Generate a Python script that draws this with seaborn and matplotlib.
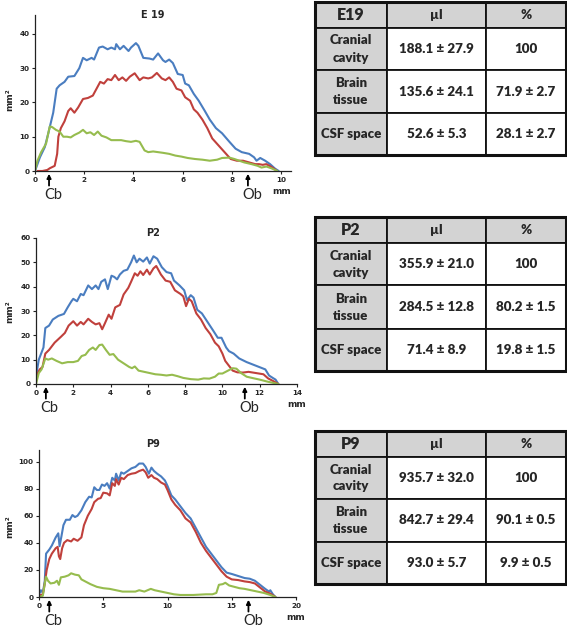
import matplotlib
matplotlib.use('Agg')
import matplotlib.pyplot as plt
import matplotlib.transforms as mtransforms
import seaborn as sns

# ---- E19 profiles (mm along axis vs. area mm^2)
e19_cranial_x = [0, 0.2, 0.4, 0.54, 0.74, 0.88, 1.0, 1.2, 1.35, 1.6, 1.8, 1.95, 2.1, 2.3, 2.4, 2.6, 2.75, 2.95, 3.1, 3.25,
                 3.3, 3.45, 3.6, 3.8, 3.9, 4.1, 4.2, 4.4, 4.65, 4.8, 5.0, 5.2, 5.3, 5.45, 5.6, 5.8, 6.0, 6.1, 6.25, 6.45,
                 6.65, 6.9, 7.1, 7.35, 7.6, 7.9, 8.15, 8.4, 8.7, 8.9, 9.0, 9.15, 9.35, 9.55, 9.75, 9.9]
e19_cranial_y = [0, 4, 7, 11, 17, 24, 25, 26, 27.5, 27.7, 30, 33, 32.3, 33, 32.5, 36, 36.3, 35.5, 36, 35.5,
                 37, 35.5, 36.5, 35, 36, 37.3, 36.5, 33, 32.8, 32.5, 34.3, 32.3, 31.8, 32.5, 31.5, 28.3, 28, 25.5, 25, 22.5,
                 20.5, 17.5, 15, 12.5, 11, 8.5, 6.5, 5.5, 5, 4, 3, 3.8, 3, 2, 0.7, 0]
e19_brain_x = [0.1, 0.3, 0.5, 0.6, 0.8, 0.9, 0.95, 1.05, 1.2, 1.35, 1.45, 1.6, 1.75, 1.95, 2.15, 2.35, 2.5, 2.65, 2.8, 2.95,
               3.1, 3.25, 3.4, 3.55, 3.7, 3.85, 4.05, 4.25, 4.4, 4.6, 4.75, 4.95, 5.15, 5.3, 5.45, 5.6, 5.75, 5.95, 6.1, 6.3,
               6.45, 6.6, 6.8, 7.0, 7.2, 7.45, 7.7, 7.95, 8.2, 8.45, 8.7, 8.95, 9.1, 9.25, 9.4, 9.6, 9.8]
e19_brain_y = [0, 0, 0.3, 0.8, 1.5, 5, 10, 12.5, 14.5, 17.5, 18.3, 17, 18.5, 21, 21.3, 22, 24, 26, 25.5, 26.8,
               26.5, 28, 26.5, 27.3, 26.3, 27.5, 28.5, 26.5, 27.3, 27, 27.3, 28.6, 27, 26.5, 27.3, 26, 24, 23.5, 21.5, 20.5,
               18, 17, 15, 12.5, 9.5, 7.5, 5.5, 3.5, 3, 3, 2.5, 2, 2, 1.8, 2, 1.2, 0.2]
e19_csf_x = [0, 0.1, 0.25, 0.45, 0.6, 0.7, 0.85, 1.0, 1.15, 1.3, 1.45, 1.6, 1.8, 1.95, 2.1, 2.25, 2.4, 2.55, 2.7, 2.9,
             3.1, 3.3, 3.5, 3.7, 3.9, 4.1, 4.25, 4.45, 4.6, 4.8, 5.0, 5.2, 5.45, 5.7, 5.95, 6.2, 6.5, 6.8, 7.1, 7.4,
             7.6, 7.9, 8.1, 8.3, 8.5, 8.8, 9.05, 9.2, 9.4, 9.6, 9.85]
e19_csf_y = [0, 3, 5.5, 8, 13, 12.8, 12, 11.5, 10, 10, 9.8, 10.5, 11.2, 12, 11, 11.3, 10.5, 11.5, 10.3, 9.8,
             9, 9, 9, 8.7, 8.5, 8.8, 8.5, 6, 5.5, 5.7, 5.5, 5.3, 5, 4.5, 4.2, 3.8, 3.5, 3.3, 3, 3.3,
             3.8, 3.9, 3.5, 3, 2.5, 2, 1.5, 1, 1.3, 0.8, 0]

# ---- P2 profiles
p2_cranial_x = [0, 0.15, 0.3, 0.4, 0.5, 0.7, 0.9, 1.2, 1.5, 1.7, 1.9, 2.0, 2.2, 2.4, 2.55, 2.8, 3.0, 3.2, 3.35, 3.5,
                3.7, 3.85, 4.05, 4.2, 4.35, 4.5, 4.7, 4.9, 5.1, 5.25, 5.4, 5.55, 5.75, 5.95, 6.1, 6.3, 6.5, 6.75, 7.0, 7.25,
                7.4, 7.7, 7.95, 8.1, 8.3, 8.45, 8.65, 8.9, 9.2, 9.5, 9.75, 9.95, 10.2, 10.35, 10.6, 10.9, 11.3, 11.8, 12.3, 12.5,
                12.7, 12.85, 13.0]
p2_cranial_y = [3, 10, 13, 15, 23, 24, 26.5, 28, 28.8, 31.5, 34, 35, 34, 37, 36.5, 40.5, 39, 40.5, 39, 42,
                43, 39, 44.5, 44, 43, 45, 46.5, 47, 50, 52.8, 50, 51.5, 50.3, 52, 49.5, 52.5, 51.5, 48, 46, 45.5,
                42.5, 40.5, 38.5, 34.5, 36.5, 35.5, 30.5, 29, 25.5, 22, 19, 19, 15, 13.5, 12.5, 10.5, 9, 7.5, 6, 3.5,
                2.5, 1.8, 0]
p2_brain_x = [0, 0.2, 0.35, 0.5, 0.7, 1.0, 1.35, 1.55, 1.75, 2.0, 2.2, 2.4, 2.55, 2.8, 3.0, 3.2, 3.4, 3.55, 3.7, 3.9,
              4.05, 4.25, 4.5, 4.7, 4.95, 5.1, 5.3, 5.45, 5.6, 5.75, 5.95, 6.1, 6.3, 6.45, 6.7, 6.95, 7.2, 7.45, 7.75, 7.9,
              8.05, 8.2, 8.35, 8.6, 8.85, 9.1, 9.35, 9.6, 9.8, 10.0, 10.15, 10.35, 10.55, 10.8, 11.1, 11.4, 11.8, 12.2, 12.45, 12.7,
              13.0]
p2_brain_y = [3, 6, 7, 12.5, 14, 17, 19.5, 21, 24, 25.8, 24, 25.5, 24.5, 26.8, 25.5, 24.5, 25, 22.5, 25, 28.5,
              26.8, 31.5, 32.5, 36.8, 39.5, 42, 45.5, 44.5, 46.3, 44.8, 47, 45, 47.5, 48.5, 45, 42.5, 42, 38.5, 37, 36,
              32, 35, 34, 29, 26.5, 23, 20.5, 17, 15.5, 12.5, 9.5, 7.5, 5.5, 4.8, 4.7, 5, 4.5, 4, 2.3, 1.3,
              0]
p2_csf_x = [0, 0.15, 0.3, 0.5, 0.65, 0.85, 1.1, 1.4, 1.7, 2.0, 2.25, 2.45, 2.65, 2.85, 3.05, 3.2, 3.4, 3.55, 3.75, 3.95,
            4.15, 4.4, 4.7, 5.0, 5.15, 5.3, 5.5, 5.8, 6.1, 6.4, 6.7, 7.0, 7.3, 7.6, 7.9, 8.3, 8.7, 9.0, 9.3, 9.6,
            9.8, 10.0, 10.3, 10.55, 10.75, 11.0, 11.3, 11.7, 12.0, 12.4, 12.7, 13.0]
p2_csf_y = [0, 4.5, 6, 10.5, 10, 10.5, 9.5, 8.5, 9, 9, 9.5, 11.5, 12, 14, 15, 14, 16, 16.2, 14, 12,
            12.3, 10, 8.5, 7, 6.5, 7.2, 5.5, 5, 4.5, 4, 3.8, 3.5, 3.8, 3.2, 2.5, 2, 1.8, 2.3, 2.2, 3,
            4.3, 4.3, 5.5, 6.5, 6.3, 4.5, 3, 2.3, 1.8, 1, 0.5, 0]

# ---- P9 profiles
p9_cranial_x = [0, 0.15, 0.3, 0.45, 0.55, 0.8, 1.0, 1.3, 1.5, 1.6, 1.75, 1.9, 2.1, 2.4, 2.6, 2.8, 3.0, 3.3, 3.6, 3.9,
                4.1, 4.3, 4.5, 4.7, 4.9, 5.1, 5.3, 5.5, 5.7, 5.9, 6.0, 6.2, 6.4, 6.6, 6.9, 7.2, 7.5, 7.8, 8.1, 8.3,
                8.55, 8.75, 8.95, 9.2, 9.5, 9.8, 10.0, 10.3, 10.6, 11.0, 11.4, 11.8, 12.2, 12.6, 13.0, 13.4, 13.8, 14.2, 14.6, 15.0,
                15.5, 16.0, 16.4, 16.8, 17.2, 17.6, 17.9, 18.0, 18.2, 18.4]
p9_cranial_y = [2, 5, 3, 12, 32, 35, 38, 44, 47, 37.5, 45, 53, 57, 57, 60.5, 59, 60, 64, 70, 74,
                73.5, 81, 79, 79, 83, 82, 84, 80, 88, 86, 91, 86, 92, 91, 93, 95, 96, 98.5, 98.5, 96,
                91, 95.5, 93, 91, 89, 86, 82, 75, 72, 67, 62, 58, 51, 44, 37, 32, 27, 22, 18, 17,
                15.5, 14, 13.5, 12, 9, 6, 4, 5, 2, 0]
p9_brain_x = [0, 0.3, 0.45, 0.6, 0.8, 1.0, 1.3, 1.45, 1.55, 1.65, 1.8, 1.95, 2.2, 2.5, 2.7, 3.0, 3.3, 3.5, 3.8, 4.1,
              4.3, 4.6, 4.8, 5.0, 5.3, 5.5, 5.7, 5.9, 6.0, 6.2, 6.4, 6.6, 6.9, 7.2, 7.5, 7.8, 8.1, 8.3, 8.5, 8.75,
              8.95, 9.2, 9.5, 9.8, 10.0, 10.3, 10.6, 11.0, 11.4, 11.8, 12.2, 12.6, 13.0, 13.4, 13.8, 14.2, 14.6, 15.0, 15.5, 16.0,
              16.4, 16.8, 17.2, 17.6, 18.0, 18.4]
p9_brain_y = [1, 2, 10, 20, 28, 32, 36, 37, 30, 28, 36, 40, 42, 41, 43, 41.5, 44, 53, 60, 65,
              70, 72.5, 73, 77, 76.5, 75, 84, 82, 87, 83, 88, 87, 90, 91, 91.5, 93, 94, 92, 88, 90,
              88, 87, 84.5, 83, 79, 72, 68, 64, 58, 55, 48, 40, 34, 29, 24, 19, 15, 13, 12.5, 11.5,
              11, 10, 7, 4, 2.5, 0]
p9_csf_x = [0, 0.3, 0.45, 0.55, 0.7, 0.9, 1.2, 1.4, 1.55, 1.7, 2.0, 2.3, 2.5, 2.8, 3.1, 3.3, 3.6, 4.0, 4.5, 5.0,
            5.5, 6.0, 6.5, 7.0, 7.5, 7.8, 8.2, 8.7, 9.0, 9.5, 10.0, 10.5, 11.0, 12.0, 13.0, 13.5, 13.8, 14.0, 14.3, 14.5,
            14.8, 15.2, 15.6, 16.0, 16.5, 17.0, 17.5, 18.0, 18.4]
p9_csf_y = [0, 1, 10, 15, 12, 10, 10.5, 12, 9, 14.5, 15, 16, 17.5, 16.5, 16, 13, 11.5, 9.5, 7.5, 6.5,
            6, 5, 4, 4, 4, 5, 4, 6, 5, 4, 3, 2, 1.5, 1.5, 2, 2, 3, 9, 9.5, 10.5,
            8.5, 7.5, 6.5, 6, 5, 4, 3, 1.5, 0]

# ---- volume tables
row_labels = ['Cranial\ncavity', 'Brain\ntissue', 'CSF space']
col_labels = ['\u00b5l', '%']
e19_table = [['188.1 \u00b1 27.9', '100'], ['135.6 \u00b1 24.1', '71.9 \u00b1 2.7'], ['52.6 \u00b1 5.3', '28.1 \u00b1 2.7']]
p2_table = [['355.9 \u00b1 21.0', '100'], ['284.5 \u00b1 12.8', '80.2 \u00b1 1.5'], ['71.4 \u00b1 8.9', '19.8 \u00b1 1.5']]
p9_table = [['935.7 \u00b1 32.0', '100'], ['842.7 \u00b1 29.4', '90.1 \u00b1 0.5'], ['93.0 \u00b1 5.7', '9.9 \u00b1 0.5']]

BLUE = '#4a7dc0'
RED = '#c0403c'
GREEN = '#96bc4e'
W, H = 567, 629

sns.set_style('ticks')
plt.rcParams['font.family'] = ['DejaVu Sans']

fig = plt.figure(figsize=(W / 100, H / 100), dpi=100)


def px_axes(left, top, right, bottom):
    return fig.add_axes([left / W, 1 - bottom / H, (right - left) / W, (bottom - top) / H])


def draw_profile(box, series, xlim, ylim, xticks, yticks, title, title_y, ylab_y, cb_x, ob_x):
    ax = px_axes(*box)
    for xs, ys, c in series:
        sns.lineplot(x=xs, y=ys, ax=ax, color=c, linewidth=1.5, sort=False, estimator=None)
    ax.set_xlim(*xlim)
    ax.set_ylim(*ylim)
    ax.set_xticks(xticks)
    ax.set_yticks(yticks)
    ax.tick_params(labelsize=5.2, length=2.5, width=0.8, pad=1.5, color='#222222')
    for lab in ax.get_xticklabels() + ax.get_yticklabels():
        lab.set_fontweight('bold')
    for s in ['top', 'right']:
        ax.spines[s].set_visible(False)
    for s in ['left', 'bottom']:
        ax.spines[s].set_linewidth(0.9)
        ax.spines[s].set_color('#222222')
    ax.set_xlabel('')
    ax.set_ylabel('')
    fig.text(153 / W, 1 - title_y / H, title, ha='center', va='center', fontsize=7, fontweight='bold')
    fig.text(10 / W, 1 - ylab_y / H, 'mm\u00b2', ha='center', va='center', rotation=90,
             fontsize=6.5, fontweight='bold')
    xt = ax.get_xaxis_transform()
    tip = mtransforms.offset_copy(xt, fig=fig, y=-2.0, units='points')
    tail = mtransforms.offset_copy(xt, fig=fig, y=-10.5, units='points')
    for xa, name in [(cb_x, 'Cb'), (ob_x, 'Ob')]:
        ax.annotate('', xy=(xa, 0), xycoords=tip, xytext=(xa, 0), textcoords=tail,
                    arrowprops=dict(arrowstyle='-|>', color='black', lw=1.3, mutation_scale=6,
                                    shrinkA=0, shrinkB=0),
                    annotation_clip=False)
        ax.annotate(name, xy=(xa, 0), xycoords=xt, xytext=(-3.8, -17.5), textcoords='offset points',
                    ha='left', va='center', fontsize=10.5, family='Lato', annotation_clip=False)
    ax.annotate('mm', xy=(xticks[-1], 0), xycoords=xt, xytext=(0, -14.5), textcoords='offset points',
                ha='center', va='center', fontsize=6.5, fontweight='bold', annotation_clip=False)
    return ax


def draw_table(box, group, values):
    ax = px_axes(*box)
    ax.axis('off')
    cells = [[group] + col_labels] + [[row_labels[i]] + values[i] for i in range(len(values))]
    tbl = ax.table(cellText=cells, cellLoc='center', bbox=[0, 0, 1, 1])
    tbl.auto_set_font_size(False)
    widths = [72, 99, 80]
    heights = [26, 42, 43, 42]
    for (r, c), cell in tbl.get_celld().items():
        cell.set_width(widths[c])
        cell.set_height(heights[r])
        cell.set_linewidth(1.3)
        cell.set_edgecolor('#111111')
        gray = r == 0 or c == 0
        cell.set_facecolor('#d3d3d3' if gray else 'white')
        txt = cell.get_text()
        txt.set_fontfamily('Lato')
        txt.set_fontweight('heavy')
        if r == 0 and c == 0:
            txt.set_fontsize(11.5)
        elif c == 0:
            txt.set_fontsize(9.5)
        else:
            txt.set_fontsize(9.6)
        txt.set_linespacing(1.5)
    ax.add_patch(plt.Rectangle((0, 0), 1, 1, transform=ax.transAxes, fill=False,
                               lw=2.2, edgecolor='#111111', clip_on=False, zorder=5))
    return ax


draw_profile((35, 15, 291, 171),
             [(e19_cranial_x, e19_cranial_y, BLUE), (e19_brain_x, e19_brain_y, RED), (e19_csf_x, e19_csf_y, GREEN)],
             (0, 10.4), (0, 45.5), [0, 2, 4, 6, 8, 10], [0, 10, 20, 30, 40], 'E 19', 15, 100, 0.57, 8.65)
draw_profile((36, 238, 297, 384),
             [(p2_cranial_x, p2_cranial_y, BLUE), (p2_brain_x, p2_brain_y, RED), (p2_csf_x, p2_csf_y, GREEN)],
             (0, 14), (0, 60), [0, 2, 4, 6, 8, 10, 12, 14], [0, 10, 20, 30, 40, 50, 60], 'P2', 233, 312, 0.53, 11.2)
draw_profile((39, 450, 296, 597),
             [(p9_cranial_x, p9_cranial_y, BLUE), (p9_brain_x, p9_brain_y, RED), (p9_csf_x, p9_csf_y, GREEN)],
             (0, 20), (0, 108.5), [0, 5, 10, 15, 20], [0, 20, 40, 60, 80, 100], 'P9', 444, 527, 0.8, 16.3)

draw_table((315, 2, 566, 155), 'E19', e19_table)
draw_table((315, 217, 566, 371), 'P2', p2_table)
draw_table((315, 431, 566, 584), 'P9', p9_table)

fig.savefig('out.png', dpi=100)
